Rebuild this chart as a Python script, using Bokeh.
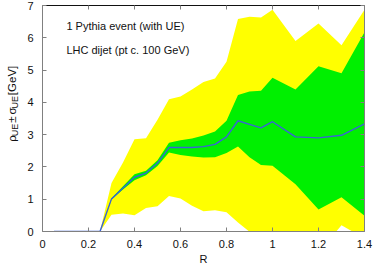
import numpy as np
from math import pi
from bokeh.plotting import figure
from bokeh.layouts import row
from bokeh.models import Range1d, LinearAxis, FixedTicker, Label, ColumnDataSource
from bokeh.core.properties import value
from bokeh.embed import file_html
from bokeh.resources import INLINE

# ---- data ----
R = [0.05, 0.10, 0.15, 0.20, 0.25, 0.30, 0.35, 0.40, 0.45, 0.50, 0.55, 0.60,
     0.65, 0.70, 0.75, 0.80, 0.85, 0.90, 0.95, 1.00, 1.10, 1.20, 1.30, 1.40]
rho = [0, 0, 0, 0, 0, 1.01, 1.35, 1.68, 1.81, 2.12, 2.60, 2.60,
       2.60, 2.63, 2.70, 2.93, 3.43, 3.32, 3.21, 3.40, 2.93, 2.90, 2.98, 3.33]
sig_inner = [0, 0, 0, 0, 0, 0.02, 0.05, 0.09, 0.07, 0.09, 0.15, 0.23,
             0.28, 0.34, 0.40, 0.50, 0.80, 1.02, 1.15, 1.36, 1.47, 2.22, 1.92, 2.84]
sig_outer = [0, 0, 0, 0, 0, 0.49, 0.79, 1.18, 1.08, 1.34, 1.50, 1.58,
             1.80, 2.00, 2.04, 2.33, 3.15, 3.33, 3.42, 3.47, 2.97, 3.54, 2.79, 3.54]

x_ticks = [0, 0.2, 0.4, 0.6, 0.8, 1.0, 1.2, 1.4]
x_tick_labels = ["0", "0.2", "0.4", "0.6", "0.8", "1", "1.2", "1.4"]
y_ticks = [0, 1, 2, 3, 4, 5, 6, 7]

text_lines = ["1 Pythia event (with UE)", "LHC dijet (pt c. 100 GeV)"]
x_label = "R"
# y label pieces: (text, is_subscript, gap_before)
y_label_parts = [("ρ", False, 0), ("UE", True, 0), ("±", False, 1), ("σ", False, 1),
                 ("UE", True, 0), ("[GeV]", False, 1)]

FONT = "Liberation Sans"
TXT = "#111111"
AX = "#808080"

rho_a = np.array(rho)
src = ColumnDataSource(dict(
    x=R, rho=rho,
    y_lo=rho_a - np.array(sig_outer), y_hi=rho_a + np.array(sig_outer),
    g_lo=rho_a - np.array(sig_inner), g_hi=rho_a + np.array(sig_inner),
))

# ---------- main plot ----------
p = figure(width=354, height=267, output_backend="svg", toolbar_location=None,
           x_range=Range1d(0, 1.4), y_range=Range1d(0, 7),
           min_border_left=22, min_border_right=10, min_border_top=5, min_border_bottom=35)
p.xgrid.visible = False
p.ygrid.visible = False
p.outline_line_color = None
p.background_fill_color = "white"
p.border_fill_color = "white"

p.varea(x="x", y1="y_lo", y2="y_hi", source=src, fill_color="#FFFF00")
p.varea(x="x", y1="g_lo", y2="g_hi", source=src, fill_color="#00F000")
p.line(x="x", y="rho", source=src, line_color="#3A62D8", line_width=1.4)

def style_axis(ax, labels=True):
    ax.major_tick_in = 4
    ax.major_tick_out = 0
    ax.minor_tick_line_color = None
    ax.major_tick_line_color = AX
    ax.axis_line_color = AX
    if labels:
        ax.major_label_text_font = FONT
        ax.major_label_text_font_size = "11px"
        ax.major_label_text_color = TXT
    else:
        ax.major_label_text_color = None
        ax.major_label_text_font_size = "1px"
        ax.major_label_standoff = 0

xa = p.xaxis[0]
xa.ticker = FixedTicker(ticks=x_ticks)
xa.major_label_overrides = {t: l for t, l in zip(x_ticks, x_tick_labels)}
style_axis(xa)
xa.major_label_standoff = 8
xa.axis_label = x_label
xa.axis_label_text_font = FONT
xa.axis_label_text_font_size = "11px"
xa.axis_label_text_font_style = "normal"
xa.axis_label_text_color = TXT
xa.axis_label_standoff = 2

ya = p.yaxis[0]
ya.ticker = FixedTicker(ticks=y_ticks)
style_axis(ya)
ya.major_label_standoff = 9

top = LinearAxis(ticker=FixedTicker(ticks=x_ticks))
style_axis(top, labels=False)
top.axis_line_color = "#111111"
p.add_layout(top, "above")
right = LinearAxis(ticker=FixedTicker(ticks=y_ticks))
style_axis(right, labels=False)
p.add_layout(right, "right")

# in-plot texts
p.add_layout(Label(x=0.104, y=6.35, text=text_lines[0], text_font=FONT,
                   text_font_size="11px", text_color=TXT, text_baseline="alphabetic"))
p.add_layout(Label(x=0.104, y=5.61, text=text_lines[1], text_font=FONT,
                   text_font_size="11px", text_color=TXT, text_baseline="alphabetic"))

# ---------- narrow strip holding the rotated y label (with subscripts) ----------
LW, LH = 20, 267
lab = figure(width=LW, height=LH, output_backend="svg", toolbar_location=None,
             x_range=Range1d(0, LW), y_range=Range1d(0, LH),
             x_axis_location=None, y_axis_location=None,
             min_border_left=0, min_border_right=0, min_border_top=0, min_border_bottom=0)
lab.xgrid.visible = False
lab.ygrid.visible = False
lab.outline_line_color = None

main_px, sub_px = 11.5, 9.0
# approximate advance widths (em) for Liberation Sans
adv = {"ρ": 0.58, "U": 0.722, "E": 0.667, "±": 0.584, "σ": 0.62,
       "[": 0.278, "G": 0.778, "e": 0.556, "V": 0.667, "]": 0.278}
space = 0.278 * main_px
pos = 161.0  # page y where the label starts (bottom)
for t, is_sub, gap in y_label_parts:
    fs = sub_px if is_sub else main_px
    xb = 14.5 if is_sub else 11.5
    pos -= gap * space
    lab.text(x=[xb], y=[LH - pos], text=[t], angle=pi / 2,
             text_font=value(FONT), text_font_size=value(f"{fs}px"), text_color=TXT,
             text_align="left", text_baseline="alphabetic")
    pos -= sum(adv.get(c, 0.6) for c in t) * fs

layout = row(lab, p)
open("out.html", "w").write(file_html(layout, INLINE))
